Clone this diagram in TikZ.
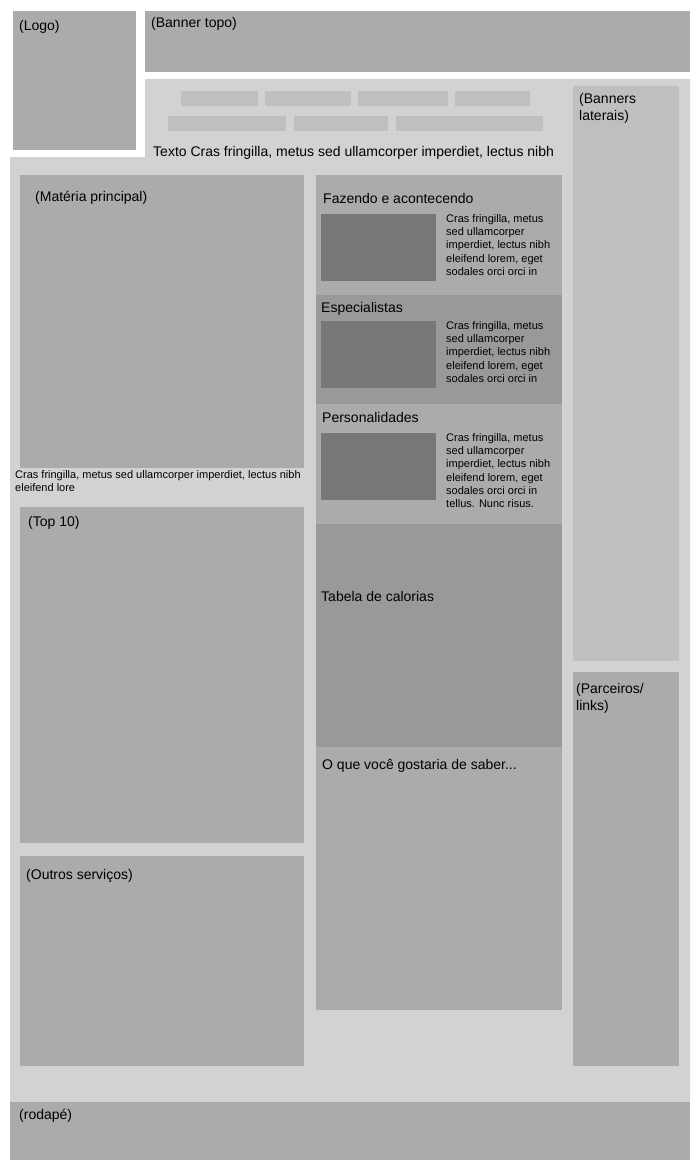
\documentclass[tikz,border=0pt]{standalone}
\usepackage{fontspec}
\setmainfont{Liberation Sans}
\begin{document}
\begin{tikzpicture}[x=1pt,y=-1pt,
  lbl/.style={anchor=west,inner sep=0pt,font=\fontsize{14}{17}\selectfont},
  lblb/.style={anchor=north west,inner sep=0pt,align=left,font=\fontsize{14}{17}\selectfont},
  small/.style={anchor=north west,inner sep=0pt,align=left,font=\fontsize{11}{13.3}\selectfont},
  box/.style={fill=boxgray},
  navbtn/.style={fill=navgray}]
\definecolor{panel}{HTML}{D2D2D2}
\definecolor{boxgray}{HTML}{ABABAB}
\definecolor{navgray}{HTML}{BFBFBF}
\definecolor{darkbox}{HTML}{999999}
\definecolor{thumb}{HTML}{777777}
\useasboundingbox[fill=white] (0,0) rectangle (700,1170);
% panel
\fill[panel] (145,79) -- (690,79) -- (690,1102) -- (10,1102) -- (10,157) -- (145,157) -- cycle;
% logo and banner
\fill[box] (13,11) rectangle (136,150);
\fill[box] (145,11) rectangle (690,72);
% nav buttons
\fill[navbtn] (181,91) rectangle (258,106);
\fill[navbtn] (265,91) rectangle (351,106);
\fill[navbtn] (358,91) rectangle (448,106);
\fill[navbtn] (455,91) rectangle (530,106);
\fill[navbtn] (168,116) rectangle (286,131);
\fill[navbtn] (294,116) rectangle (388,131);
\fill[navbtn] (396,116) rectangle (543,131);
% right column
\fill[navbtn] (573,86) rectangle (679,661);
\fill[box] (573,672) rectangle (679,1066);
% left column
\fill[box] (20,175) rectangle (304,468);
\fill[box] (20,507) rectangle (304,843);
\fill[box] (20,856) rectangle (304,1066);
% middle column
\fill[box] (316,175) rectangle (562,295);
\fill[darkbox] (316,295) rectangle (562,404);
\fill[box] (316,404) rectangle (562,524);
\fill[darkbox] (316,524) rectangle (562,747);
\fill[box] (316,747) rectangle (562,1010);
\fill[thumb] (321,214) rectangle (436,281);
\fill[thumb] (321,321) rectangle (436,388);
\fill[thumb] (321,433) rectangle (436,500);
% footer
\fill[box] (10,1102) rectangle (690,1160);
% texts
\node[lbl] (logo) at (19,27) {(Logo)};
\node[lbl] (banner) at (151,24) {(Banner topo)};
\node[lbl] (texto) at (153,153) {Texto Cras fringilla, metus sed ullamcorper imperdiet, lectus nibh};
\node[lblb] (banlat) at (579,93) {(Banners\\laterais)};
\node[lblb] (parc) at (576,683) {(Parceiros/\\links)};
\node[lbl] (materia) at (35,198) {(Matéria principal)};
\node[small] (caption) at (15,470) {Cras fringilla, metus sed ullamcorper imperdiet, lectus nibh\\eleifend lore};
\node[small] (t1) at (446,214) {Cras fringilla, metus\\sed ullamcorper\\imperdiet, lectus nibh\\eleifend lorem, eget\\sodales orci orci in};
\node[small] (t2) at (446,321) {Cras fringilla, metus\\sed ullamcorper\\imperdiet, lectus nibh\\eleifend lorem, eget\\sodales orci orci in};
\node[small] (t3) at (446,433) {Cras fringilla, metus\\sed ullamcorper\\imperdiet, lectus nibh\\eleifend lorem, eget\\sodales orci orci in\\tellus. Nunc risus.};
\node[lbl] (top10) at (28,523) {(Top 10)};
\node[lbl] (outros) at (26,876) {(Outros serviços)};
\node[lbl] (fazendo) at (323,198) {Fazendo e acontecendo};
\node[lbl] (espec) at (321,309) {Especialistas};
\node[lbl] (person) at (322,417) {Personalidades};
\node[lbl] (tabela) at (321,596) {Tabela de calorias};
\node[lbl] (oque) at (322,766) {O que você gostaria de saber...};
\node[lbl] (rodape) at (19,1116) {(rodapé)};
\end{tikzpicture}
\end{document}
